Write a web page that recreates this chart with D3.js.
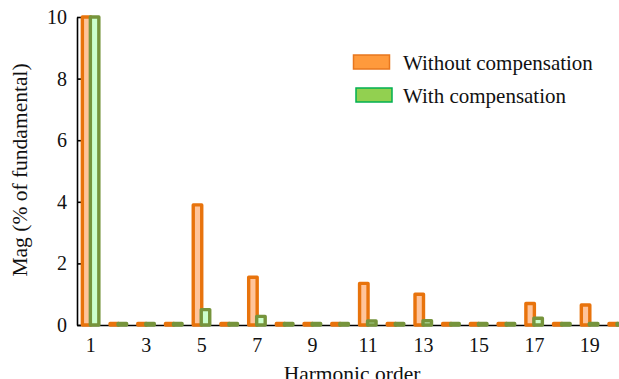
<!DOCTYPE html>
<html>
<head>
<meta charset="utf-8">
<script src="https://cdn.jsdelivr.net/npm/d3@7"></script>
<style>
  body { margin: 0; background: #fff; }
  .axis path, .axis line { stroke: #000; stroke-width: 1.6; }
</style>
</head>
<body>
<div id="chart"></div>
<script>
// harmonic spectrum, % of fundamental
const harmonics = d3.range(1, 21);
const withoutComp = [10, 0.05, 0.05, 0.05, 3.9, 0.05, 1.55, 0.05, 0.05, 0.05, 1.35, 0.05, 1.0, 0.05, 0.05, 0.05, 0.7, 0.05, 0.65, 0.05];
const withComp = [10, 0.05, 0.05, 0.05, 0.5, 0.05, 0.28, 0.05, 0.05, 0.05, 0.13, 0.05, 0.14, 0.05, 0.05, 0.05, 0.22, 0.05, 0.05, 0.05];
const xTickValues = [1, 3, 5, 7, 9, 11, 13, 15, 17, 19];
const yTickValues = [0, 2, 4, 6, 8, 10];
const seriesNames = ["Without compensation", "With compensation"];

const font = "'Liberation Serif', 'Times New Roman', serif";
const width = 619, height = 379;
const margin = { left: 77, top: 17, bottom: 54 };
const plotBottom = height - margin.bottom; // 325

const svg = d3.select("#chart").append("svg")
    .attr("width", width)
    .attr("height", height);

const x = d3.scaleBand()
    .domain(harmonics)
    .range([margin.left, margin.left + harmonics.length * 27.72])
    .padding(0);

const y = d3.scaleLinear()
    .domain([0, 10])
    .range([plotBottom, margin.top]);

// axes
svg.append("g")
    .attr("class", "axis")
    .attr("transform", `translate(0, ${plotBottom})`)
    .call(d3.axisBottom(x).tickValues(xTickValues).tickSize(0).tickPadding(13))
    .call(g => g.selectAll("text").style("font-family", font).style("font-size", "20px").attr("fill", "#111"));

svg.append("g")
    .attr("class", "axis")
    .attr("transform", `translate(${margin.left}, 0)`)
    .call(d3.axisLeft(y).tickValues(yTickValues).tickSizeInner(-4).tickSizeOuter(0).tickPadding(10))
    .call(g => g.selectAll("text").style("font-family", font).style("font-size", "20px").attr("fill", "#111"));

// bars
const series = [
    { values: withoutComp, offset: -8.5, stroke: "#E8730C", fill: "#FFC49A" },
    { values: withComp, offset: -0.5, stroke: "#76943C", fill: "#CCFFCC" }
];
const barW = 8.5;

series.forEach(s => {
    svg.append("g")
        .selectAll("rect")
        .data(harmonics)
        .join("rect")
        .attr("x", (d) => x(d) + x.bandwidth() / 2 + s.offset)
        .attr("y", (d, i) => y(s.values[i]))
        .attr("width", barW)
        .attr("height", (d, i) => plotBottom - y(s.values[i]))
        .attr("fill", s.fill)
        .attr("stroke", s.stroke)
        .attr("stroke-width", 3.4)
        .attr("stroke-linejoin", "round");
});

// axis titles
svg.append("text")
    .attr("transform", "translate(27, 170) rotate(-90)")
    .attr("text-anchor", "middle")
    .style("font-family", font)
    .style("font-size", "21.5px")
    .attr("fill", "#111")
    .text("Mag (% of fundamental)");

svg.append("text")
    .attr("x", 352)
    .attr("y", 381)
    .attr("text-anchor", "middle")
    .style("font-family", font)
    .style("font-size", "21.5px")
    .attr("fill", "#111")
    .text("Harmonic order");

// legend
const legendItems = [
    { name: seriesNames[0], fill: "#FF9A3C", stroke: "#E8771E", rx: 353.5, ry: 55, ty: 70 },
    { name: seriesNames[1], fill: "#92D050", stroke: "#00B050", rx: 356, ry: 88, ty: 103 }
];
const legend = svg.append("g").attr("class", "legend");
legendItems.forEach(item => {
    legend.append("rect")
        .attr("x", item.rx)
        .attr("y", item.ry)
        .attr("width", 36)
        .attr("height", 14)
        .attr("fill", item.fill)
        .attr("stroke", item.stroke)
        .attr("stroke-width", 1.5);
    legend.append("text")
        .attr("x", 403)
        .attr("y", item.ty)
        .style("font-family", font)
        .style("font-size", "21px")
        .attr("fill", "#111")
        .text(item.name);
});
</script>
</body>
</html>
